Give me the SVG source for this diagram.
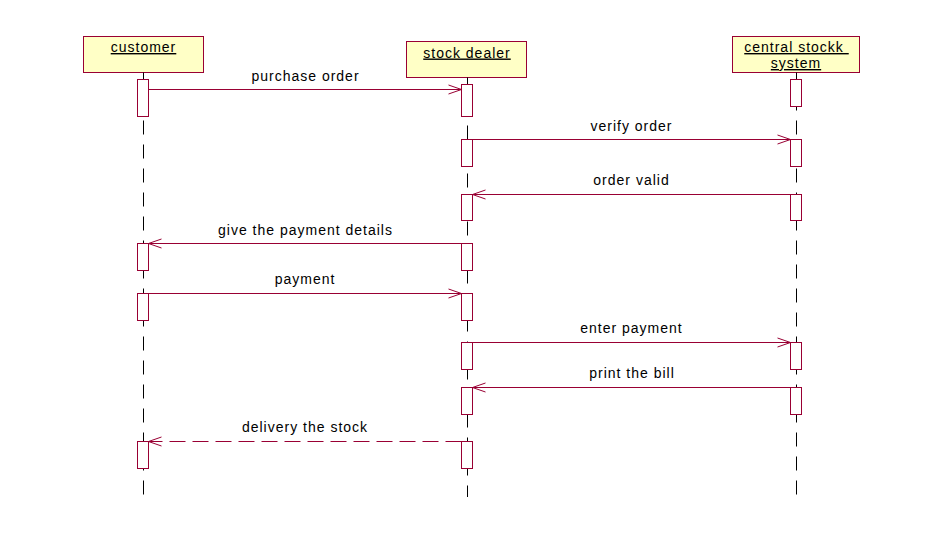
<svg xmlns="http://www.w3.org/2000/svg" width="951" height="560" viewBox="0 0 951 560">
<style>
.obj{fill:#FFFFC6;stroke:#990033;stroke-width:1}
.act{fill:#FFFFFF;stroke:#990033;stroke-width:1}
.life{stroke:#000;stroke-width:1;stroke-dasharray:14 10;fill:none}
.msg{stroke:#990033;stroke-width:1;fill:none;marker-end:url(#arr)}
.ret{stroke-dasharray:16 7}
text{font-family:"Liberation Sans",Arial,sans-serif;font-size:14px;letter-spacing:1px;fill:#000;text-anchor:middle}
.nm{text-decoration:underline}
</style>
<defs>
<marker id="arr" markerUnits="userSpaceOnUse" viewBox="-15 -6 16 12" refX="0" refY="0" markerWidth="16" markerHeight="12" orient="auto" overflow="visible">
<path d="M-13,-4.5 L0,0 L-13,4.5" fill="none" stroke="#990033" stroke-width="1"/>
</marker>
</defs>
<rect width="951" height="560" fill="#fff"/>
<g id="customer">
<rect class="obj" x="83.5" y="36.5" width="120" height="36"/>
<text class="nm" x="143.5" y="52">customer</text>
<line class="life" x1="143.5" y1="72.5" x2="143.5" y2="497"/>
<rect class="act" x="137.5" y="79.5" width="11" height="37"/>
<rect class="act" x="137.5" y="243.5" width="11" height="27"/>
<rect class="act" x="137.5" y="293.5" width="11" height="27"/>
<rect class="act" x="137.5" y="441.5" width="11" height="27"/>
</g>
<g id="stock_dealer">
<rect class="obj" x="406.5" y="41.5" width="120" height="36"/>
<text class="nm" x="467" y="57.5">stock dealer</text>
<line class="life" x1="467.5" y1="77.5" x2="467.5" y2="497"/>
<rect class="act" x="461.5" y="84.5" width="11" height="32"/>
<rect class="act" x="461.5" y="139.5" width="11" height="27"/>
<rect class="act" x="461.5" y="194.5" width="11" height="26"/>
<rect class="act" x="461.5" y="243.5" width="11" height="27"/>
<rect class="act" x="461.5" y="293.5" width="11" height="27"/>
<rect class="act" x="461.5" y="342.5" width="11" height="27"/>
<rect class="act" x="461.5" y="387.5" width="11" height="27"/>
<rect class="act" x="461.5" y="441.5" width="11" height="27"/>
</g>
<g id="central_stockk_system">
<rect class="obj" x="732.5" y="36.5" width="127" height="36"/>
<text class="nm" x="796.5" y="52">central stockk&#160;</text>
<text class="nm" x="796" y="68">system</text>
<line class="life" x1="796.5" y1="72.5" x2="796.5" y2="497"/>
<rect class="act" x="790.5" y="79.5" width="11" height="27"/>
<rect class="act" x="790.5" y="139.5" width="11" height="27"/>
<rect class="act" x="790.5" y="194.5" width="11" height="26"/>
<rect class="act" x="790.5" y="342.5" width="11" height="27"/>
<rect class="act" x="790.5" y="387.5" width="11" height="27"/>
</g>
<g id="connectors">
<line class="msg" x1="148.5" y1="89.5" x2="461.5" y2="89.5"/>
<text x="305.5" y="81">purchase order</text>
<line class="msg" x1="472.5" y1="139.5" x2="790.5" y2="139.5"/>
<text x="631.5" y="131">verify order</text>
<line class="msg" x1="790.5" y1="194.5" x2="472.5" y2="194.5"/>
<text x="631.5" y="185">order valid</text>
<line class="msg" x1="461.5" y1="243.5" x2="148.5" y2="243.5"/>
<text x="305.5" y="235">give the payment details</text>
<line class="msg" x1="148.5" y1="293.5" x2="461.5" y2="293.5"/>
<text x="305" y="284">payment</text>
<line class="msg" x1="472.5" y1="342.5" x2="790.5" y2="342.5"/>
<text x="631.5" y="333">enter payment</text>
<line class="msg" x1="790.5" y1="387.5" x2="472.5" y2="387.5"/>
<text x="632" y="378">print the bill</text>
<line class="msg ret" x1="461.5" y1="441.5" x2="148.5" y2="441.5"/>
<text x="305" y="432">delivery the stock</text>
</g>
</svg>
